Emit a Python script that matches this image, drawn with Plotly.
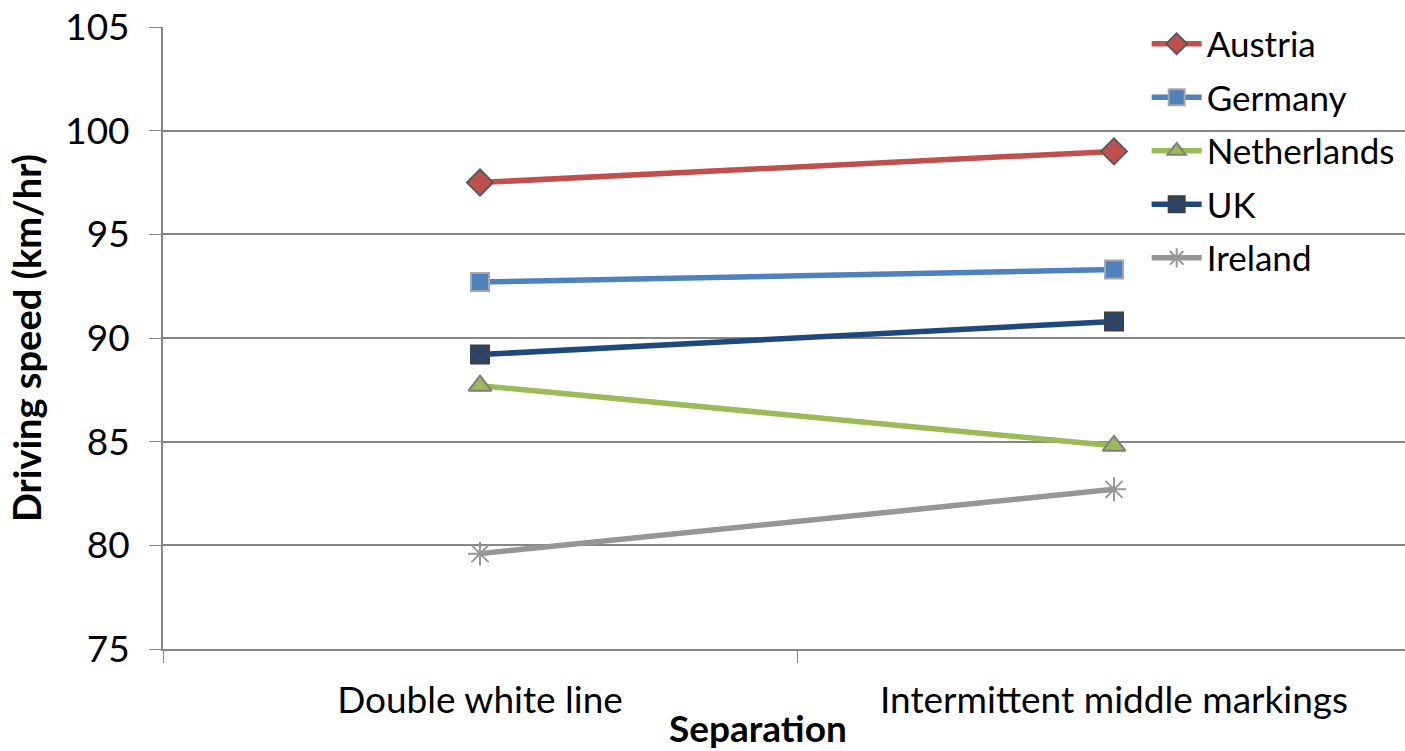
import plotly.graph_objects as go

# Driving speed by road-separation type
categories = ["Double white line", "Intermittent middle markings"]
countries = ["Austria", "Germany", "Netherlands", "UK", "Ireland"]
speeds = {
    "Austria": [97.5, 99.0],
    "Germany": [92.7, 93.3],
    "Netherlands": [87.7, 84.8],
    "UK": [89.2, 90.8],
    "Ireland": [79.6, 82.7],
}
y_ticks = [75, 80, 85, 90, 95, 100, 105]

styles = {
    "Austria": dict(color="#C0504D", symbol="diamond", size=20, mline="#595959"),
    "Germany": dict(color="#4F81BD", symbol="square", size=18, mline="#A6A6A6"),
    "Netherlands": dict(color="#9BBB59", symbol="triangle-up", size=20, mline="#7F7F7F"),
    "UK": dict(color="#1F497D", symbol="square-x", size=18, mline="#404040"),
    "Ireland": dict(color="#969696", symbol="asterisk-open", size=20, mline="#969696"),
}

FONT = "Lato"
FS = 37

fig = go.Figure()
for name in countries:
    s = styles[name]
    fig.add_trace(go.Scatter(
        x=categories, y=speeds[name], name=name, mode="lines+markers",
        legendgroup=name,
        line=dict(color=s["color"], width=5.5),
        marker=dict(symbol=s["symbol"], size=s["size"], color=s["color"],
                    line=dict(color=s["mline"], width=2)),
    ))

fig.update_layout(
    width=1405, height=751,
    margin=dict(l=163, r=0, t=27, b=102),
    paper_bgcolor="white", plot_bgcolor="white",
    font=dict(family=FONT, size=FS, color="black"),
    showlegend=True,
    legend=dict(x=0.792, y=1.02, xanchor="left", yanchor="top",
                bgcolor="rgba(0,0,0,0)", font=dict(size=FS - 2),
                itemwidth=50, tracegroupgap=5),
    xaxis=dict(
        type="category", range=[-0.5, 1.459],
        tickson="boundaries", ticks="outside", ticklen=12, tickcolor="#868686",
        showgrid=False, showline=True, linecolor="#868686", linewidth=2,
        tickfont=dict(size=FS), ticklabelstandoff=18,
    ),
    yaxis=dict(
        range=[75, 105], tickvals=y_ticks, ticks="outside", ticklen=12,
        tickcolor="#868686", showgrid=True, gridcolor="#868686", gridwidth=2,
        showline=True, linecolor="#868686", linewidth=2, zeroline=False,
        tickfont=dict(size=FS), ticklabelstandoff=12,
        title=dict(text="<b>Driving speed (km/hr)</b>", font=dict(size=38), standoff=12),
    ),
    annotations=[dict(
        text="<b>Separation</b>", xref="paper", yref="paper",
        x=0.479, y=-0.127, xanchor="center", yanchor="middle",
        showarrow=False, font=dict(size=37, family=FONT, color="black"),
    )],
)

fig.write_html("out.html")
